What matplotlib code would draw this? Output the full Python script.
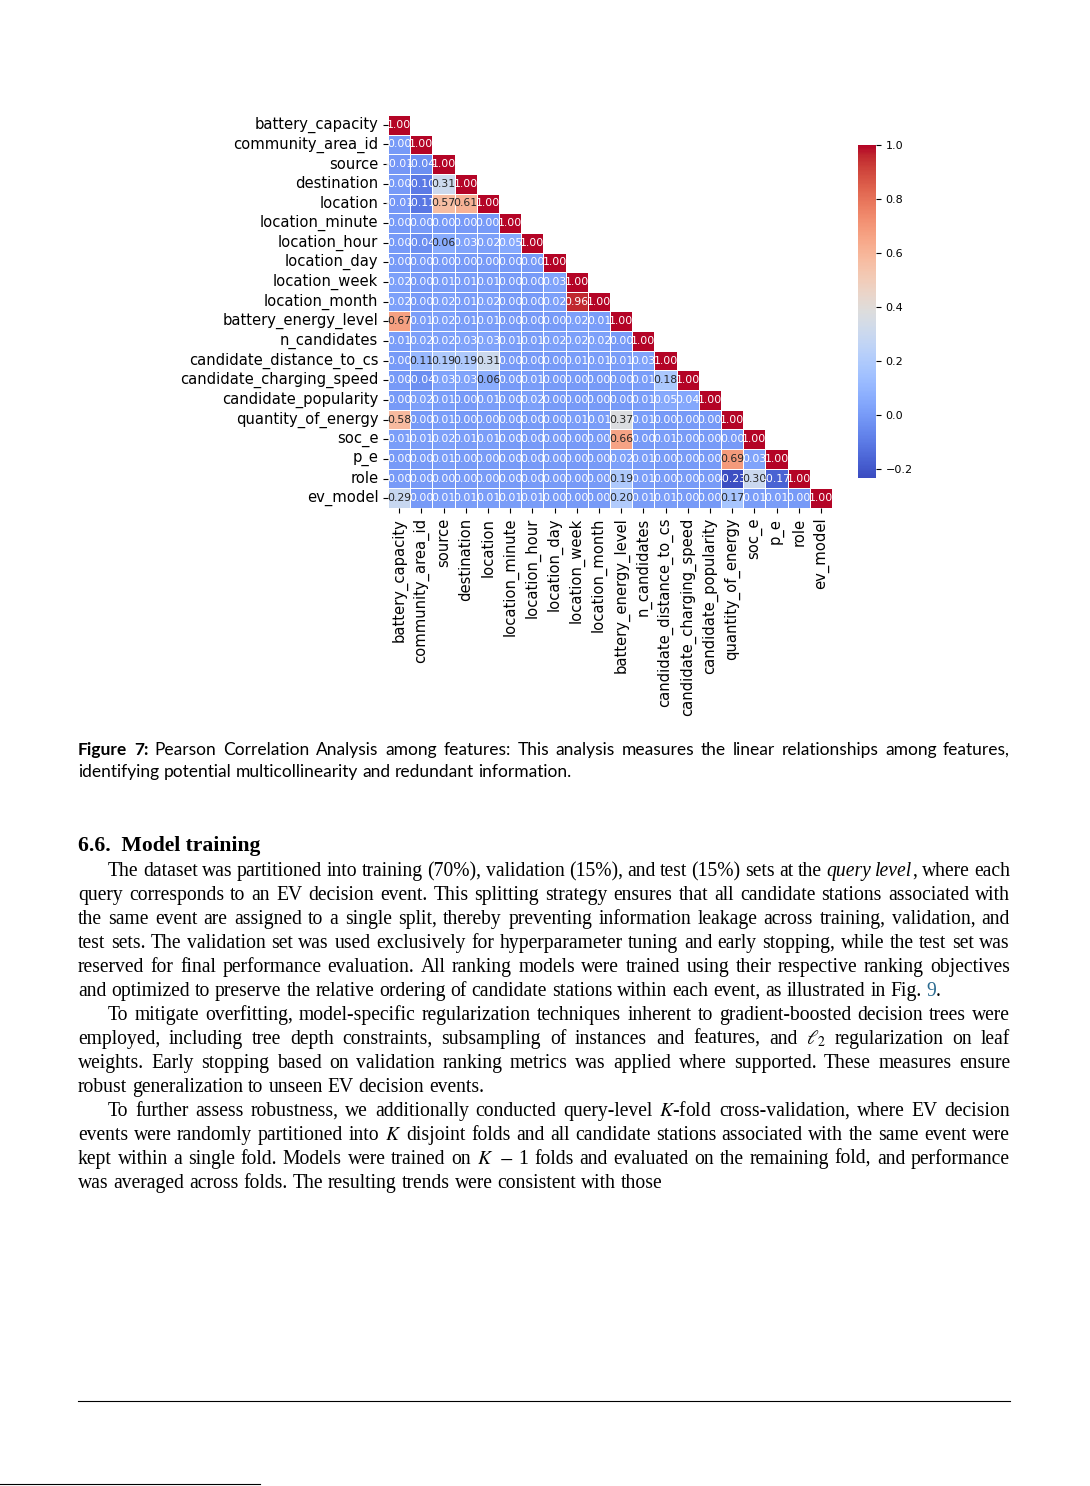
import re
import numpy as np
import matplotlib
matplotlib.use("Agg")
import matplotlib.pyplot as plt
import seaborn as sns
from matplotlib.transforms import IdentityTransform

W, H = 1090, 1486

features = [
    "battery_capacity", "community_area_id", "source", "destination", "location",
    "location_minute", "location_hour", "location_day", "location_week", "location_month",
    "battery_energy_level", "n_candidates", "candidate_distance_to_cs",
    "candidate_charging_speed", "candidate_popularity", "quantity_of_energy",
    "soc_e", "p_e", "role", "ev_model",
]

# lower triangle of the correlation matrix, one list per row
r_battery_capacity = [1.00]
r_community_area_id = [0.00, 1.00]
r_source = [-0.01, -0.04, 1.00]
r_destination = [0.00, -0.10, 0.31, 1.00]
r_location = [-0.01, -0.11, 0.57, 0.61, 1.00]
r_location_minute = [0.00, 0.00, 0.00, 0.00, 0.00, 1.00]
r_location_hour = [0.00, -0.04, 0.06, 0.03, 0.02, 0.05, 1.00]
r_location_day = [0.00, 0.00, 0.00, 0.00, 0.00, 0.00, 0.00, 1.00]
r_location_week = [0.02, 0.00, 0.01, 0.01, 0.01, 0.00, 0.00, 0.03, 1.00]
r_location_month = [0.02, 0.00, 0.02, 0.01, 0.02, 0.00, 0.00, 0.02, 0.96, 1.00]
r_battery_energy_level = [0.67, 0.01, 0.02, 0.01, 0.01, 0.00, 0.00, 0.00, 0.02, 0.01, 1.00]
r_n_candidates = [0.01, 0.02, 0.02, 0.03, 0.03, 0.01, 0.01, 0.02, 0.02, 0.02, 0.00, 1.00]
r_candidate_distance_to_cs = [0.00, 0.11, 0.19, 0.19, 0.31, 0.00, 0.00, 0.00, 0.01, 0.01,
                              0.01, 0.03, 1.00]
r_candidate_charging_speed = [0.00, -0.04, 0.03, 0.03, 0.06, 0.00, 0.01, 0.00, 0.00, 0.00,
                              0.00, 0.01, 0.18, 1.00]
r_candidate_popularity = [0.00, 0.02, 0.01, 0.00, 0.01, 0.00, 0.02, 0.00, 0.00, 0.00,
                          0.00, 0.01, 0.05, 0.04, 1.00]
r_quantity_of_energy = [0.58, 0.00, 0.01, 0.00, 0.00, 0.00, 0.00, 0.00, 0.01, 0.01,
                        0.37, 0.01, 0.00, 0.00, 0.00, 1.00]
r_soc_e = [0.01, 0.01, 0.02, 0.01, 0.01, 0.00, 0.00, 0.00, 0.00, 0.00,
           0.66, 0.00, 0.01, 0.00, 0.00, 0.00, 1.00]
r_p_e = [0.00, 0.00, 0.01, 0.00, 0.00, 0.00, 0.00, 0.00, 0.00, 0.00,
         0.02, 0.01, 0.00, 0.00, 0.00, 0.69, 0.03, 1.00]
r_role = [0.00, 0.00, 0.00, 0.00, 0.00, 0.00, 0.00, 0.00, 0.00, 0.00,
          0.19, 0.01, 0.00, 0.00, 0.00, -0.23, 0.30, -0.17, 1.00]
r_ev_model = [0.29, 0.00, 0.01, 0.01, 0.01, 0.01, 0.01, 0.00, 0.00, 0.00,
              0.20, 0.01, 0.01, 0.00, 0.00, 0.17, 0.01, 0.01, 0.00, 1.00]

rows = [r_battery_capacity, r_community_area_id, r_source, r_destination, r_location,
        r_location_minute, r_location_hour, r_location_day, r_location_week,
        r_location_month, r_battery_energy_level, r_n_candidates,
        r_candidate_distance_to_cs, r_candidate_charging_speed, r_candidate_popularity,
        r_quantity_of_energy, r_soc_e, r_p_e, r_role, r_ev_model]

caption_lines = [
    "^Figure^ ^7:^ Pearson Correlation Analysis among features: This analysis measures the linear relationships among features,",
    "identifying potential multicollinearity and redundant information.",
]

heading = "6.6.  Model training"

paragraphs = [
    ["The dataset was partitioned into training (70%), validation (15%), and test (15%) sets at the *query* *level*, where each",
     "query corresponds to an EV decision event. This splitting strategy ensures that all candidate stations associated with",
     "the same event are assigned to a single split, thereby preventing information leakage across training, validation, and",
     "test sets. The validation set was used exclusively for hyperparameter tuning and early stopping, while the test set was",
     "reserved for final performance evaluation. All ranking models were trained using their respective ranking objectives",
     "and optimized to preserve the relative ordering of candidate stations within each event, as illustrated in Fig. {9}."],
    ["To mitigate overfitting, model-specific regularization techniques inherent to gradient-boosted decision trees were",
     "employed, including tree depth constraints, subsampling of instances and features, and $\\ell_2$ regularization on leaf",
     "weights. Early stopping based on validation ranking metrics was applied where supported. These measures ensure",
     "robust generalization to unseen EV decision events."],
    ["To further assess robustness, we additionally conducted query-level $K$-fold cross-validation, where EV decision",
     "events were randomly partitioned into $K$ disjoint folds and all candidate stations associated with the same event were",
     "kept within a single fold. Models were trained on $K$ $-$ 1 folds and evaluated on the remaining fold, and performance",
     "was averaged across folds. The resulting trends were consistent with those"],
]

# ── build matrix ─────────────────────────────────────────────────────────────
n = len(features)
corr = np.zeros((n, n))
for i, r in enumerate(rows):
    for j, v in enumerate(r):
        corr[i, j] = v
        corr[j, i] = v
mask = np.triu(np.ones_like(corr, dtype=bool), k=1)

plt.rcParams["mathtext.fontset"] = "stix"
fig = plt.figure(figsize=(W / 100, H / 100), dpi=100)
fig.patch.set_facecolor("white")


def fx(px):
    return px / W


def fy(py):
    return 1 - py / H


ax = fig.add_axes([fx(388), fy(508), fx(832) - fx(388), fy(115) - fy(508)])
cax = fig.add_axes([fx(858), fy(478), fx(876) - fx(858), fy(145) - fy(478)])
sns.heatmap(corr, mask=mask, cmap="coolwarm", annot=True, fmt=".2f",
            annot_kws={"fontsize": 7.8}, linewidths=0.5, linecolor="white",
            xticklabels=features, yticklabels=features, ax=ax, cbar_ax=cax,
            vmin=-0.235, vmax=1.0, square=False)
ax.tick_params(axis="both", length=3.5, width=0.8)
ax.set_xticklabels(features, rotation=90, fontsize=10.6)
ax.set_yticklabels(features, rotation=0, fontsize=10.6)
cax.tick_params(labelsize=8, length=3.5)
cax.set_yticks([-0.2, 0.0, 0.2, 0.4, 0.6, 0.8, 1.0])

# ── text helpers ─────────────────────────────────────────────────────────────
renderer = fig.canvas.get_renderer()
SEG = re.compile(r"(\*[^*]+\*|\^[^\^]+\^|\{[^}]+\})")


def word_parts(word, base):
    parts = []
    for s in SEG.split(word):
        if not s:
            continue
        p = dict(base)
        if s.startswith("*"):
            s = s[1:-1]
            p["style"] = "italic"
        elif s.startswith("^"):
            s = s[1:-1]
            p["weight"] = "bold"
        elif s.startswith("{"):
            s = s[1:-1]
            p["color"] = "#2b6a8f"
        parts.append((s, p))
    return parts


def draw_line(line, x0, x1, y, base, justify):
    words = line.split(" ")
    placed = []
    widths = []
    for w in words:
        arts = []
        total = 0
        for s, p in word_parts(w, base):
            t = fig.text(0, 0, s, transform=IdentityTransform(), va="baseline",
                         ha="left", **p)
            bb = t.get_window_extent(renderer)
            arts.append((t, total))
            total += bb.width
        placed.append(arts)
        widths.append(total)
    space = base["fontsize"] * 100 / 72 * 0.25
    if justify and len(words) > 1:
        gap = (x1 - x0 - sum(widths)) / (len(words) - 1)
    else:
        gap = space
    x = x0
    for arts, w in zip(placed, widths):
        for t, off in arts:
            t.set_position((x + off, H - y))
        x += w + gap


cap_base = {"family": "Lato", "fontsize": 12.5, "color": "black"}
draw_line(caption_lines[0], 78, 1010, 755, cap_base, True)
draw_line(caption_lines[1], 78, 1010, 777, cap_base, False)

body_base = {"family": "Liberation Serif", "fontsize": 14.1, "color": "black"}
fig.text(fx(78), fy(851), heading, family="Liberation Serif", fontsize=15.6,
         weight="bold", va="baseline")

y = 876
for para in paragraphs:
    for k, line in enumerate(para):
        x0 = 108 if k == 0 else 78
        draw_line(line, x0, 1010, y, body_base, k < len(para) - 1)
        y += 24

fig.add_artist(plt.Line2D([fx(78), fx(1010)], [fy(1401), fy(1401)], color="black", lw=0.8))
fig.add_artist(plt.Line2D([0, fx(260)], [fy(1484), fy(1484)], color="black", lw=0.8))

fig.savefig("out.png", dpi=100, facecolor="white")
